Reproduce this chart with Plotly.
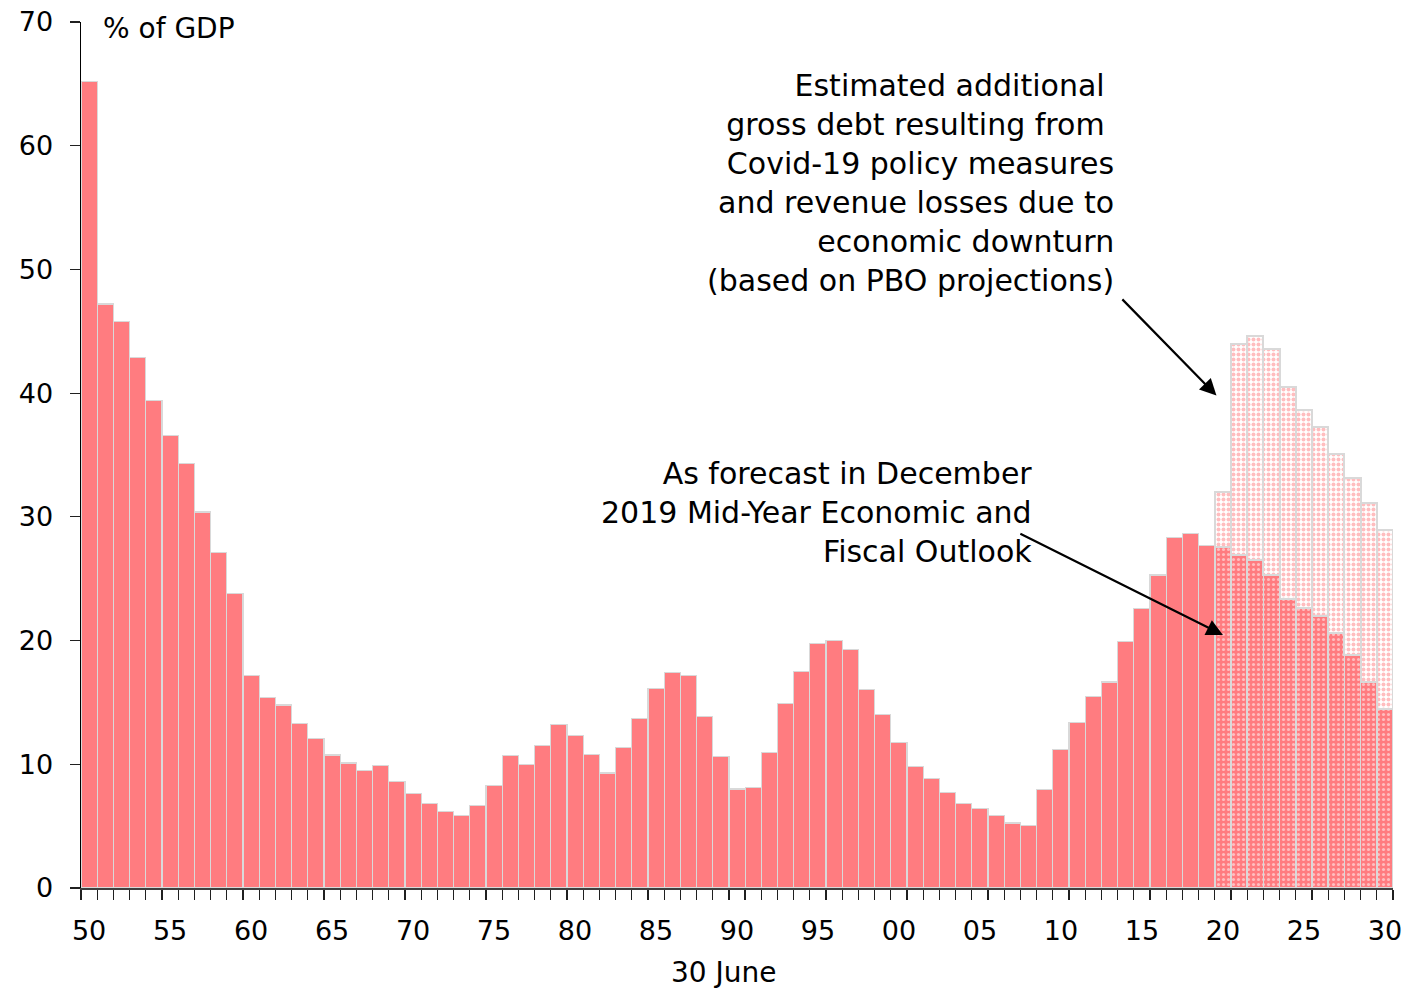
import plotly.graph_objects as go

# ---- data ----
years_hist = list(range(1950, 2020))
debt_hist = [65.2, 47.2, 45.8, 42.9, 39.4, 36.6, 34.3, 30.4, 27.1, 23.8,
             17.2, 15.4, 14.8, 13.3, 12.1, 10.75, 10.1, 9.5, 9.9, 8.6,
             7.65, 6.8, 6.2, 5.85, 6.7, 8.3, 10.7, 10.0, 11.5, 13.2,
             12.35, 10.8, 9.3, 11.35, 13.7, 16.1, 17.4, 17.2, 13.85, 10.6,
             8.0, 8.1, 10.95, 14.9, 17.5, 19.75, 20.0, 19.3, 16.05, 14.0,
             11.75, 9.8, 8.85, 7.7, 6.85, 6.45, 5.85, 5.25, 5.05, 7.95,
             11.2, 13.4, 15.5, 16.65, 19.9, 22.6, 25.3, 28.35, 28.65, 27.7]

years_fc = list(range(2020, 2031))
debt_myefo = [27.55, 26.95, 26.5, 25.3, 23.35, 22.65, 22.0, 20.65, 18.8, 16.65, 14.5]
debt_covid_add = [4.45, 17.05, 18.1, 18.3, 17.15, 16.0, 15.3, 14.4, 14.35, 14.45, 14.45]

tick_years = [1950, 1955, 1960, 1965, 1970, 1975, 1980, 1985, 1990, 1995,
              2000, 2005, 2010, 2015, 2020, 2025, 2030]
tick_labels = ["50", "55", "60", "65", "70", "75", "80", "85", "90", "95",
               "00", "05", "10", "15", "20", "25", "30"]
y_ticks = [0, 10, 20, 30, 40, 50, 60, 70]

PINK = "#FF7C80"
EDGE = "#D9D9D9"
FONT = "DejaVu Sans"

fig = go.Figure()
fig.add_trace(go.Bar(
    x=years_hist, y=debt_hist, width=1,
    marker=dict(color=PINK, line=dict(color=EDGE, width=1.2)),
    showlegend=False, name="Gross debt"))
fig.add_trace(go.Bar(
    x=years_fc, y=debt_myefo, width=1,
    marker=dict(color=PINK, line=dict(color=EDGE, width=1.5),
                pattern=dict(shape=".", bgcolor=PINK, fgcolor="white",
                             size=5, solidity=0.3)),
    showlegend=False, name="MYEFO forecast"))
fig.add_trace(go.Bar(
    x=years_fc, y=debt_covid_add, width=1,
    marker=dict(color="white", line=dict(color=EDGE, width=2),
                pattern=dict(shape=".", bgcolor="white", fgcolor=PINK,
                             size=5, solidity=0.5)),
    showlegend=False, name="Covid-19 additional debt"))

fig.update_layout(
    barmode="stack", bargap=0,
    width=1405, height=988,
    margin=dict(l=81, r=12, t=22, b=100),
    plot_bgcolor="white", paper_bgcolor="white",
    font=dict(family=FONT, size=27, color="black"),
    hovermode=False,
    xaxis=dict(range=[1949.5, 2030.5], tickvals=tick_years, ticktext=tick_labels,
               ticks="", showgrid=False, zeroline=False, automargin=False,
               showline=True, linecolor="#404040", linewidth=1.5,
               tickfont=dict(size=27), ticklabelstandoff=18,
               minor=dict(ticks="outside", ticklen=10, tick0=1949.5, dtick=1,
                          tickcolor="#202020", tickwidth=1.2, showgrid=False)),
    yaxis=dict(range=[0, 70], tickvals=y_ticks, ticks="outside", ticklen=10,
               tickcolor="#202020", tickwidth=1.2, automargin=False,
               showgrid=False, zeroline=False, showline=True,
               linecolor="black", linewidth=1.5,
               tickfont=dict(size=27), ticklabelstandoff=11),
)

fig.add_annotation(xref="paper", yref="paper", x=0.0152, y=0.993,
                   xanchor="left", yanchor="middle", showarrow=False,
                   text="% of GDP", font=dict(size=28))
fig.add_annotation(xref="paper", yref="paper", x=0.490, y=-0.098,
                   xanchor="center", yanchor="middle", showarrow=False,
                   text="30 June", font=dict(size=28))

fig.add_annotation(xref="paper", yref="paper", x=0.7887, y=0.9497,
                   xanchor="right", yanchor="top", align="right", showarrow=False,
                   text=("Estimated additional\u00a0<br>gross debt resulting from\u00a0<br>"
                         "Covid-19 policy measures<br>and revenue losses due to<br>"
                         "economic downturn<br>(based on PBO projections)"),
                   font=dict(size=30))
fig.add_annotation(xref="paper", yref="paper", x=0.7264, y=0.5017,
                   xanchor="right", yanchor="top", align="right", showarrow=False,
                   text="As forecast in December<br>2019 Mid-Year Economic and<br>Fiscal Outlook",
                   font=dict(size=30))

# arrows
fig.add_annotation(x=2019.6, y=39.8, ax=2013.7, ay=47.7, xref="x", yref="y",
                   axref="x", ayref="y", text="", showarrow=True,
                   arrowhead=2, arrowsize=1.5, arrowwidth=2.2, arrowcolor="black")
fig.add_annotation(x=2020.0, y=20.45, ax=2007.4, ay=28.7, xref="x", yref="y",
                   axref="x", ayref="y", text="", showarrow=True,
                   arrowhead=2, arrowsize=1.5, arrowwidth=2.2, arrowcolor="black")

fig.write_html("out.html",
               config={"displayModeBar": False, "staticPlot": True},
               post_script="document.body.style.margin='0';document.body.style.overflow='hidden';")
